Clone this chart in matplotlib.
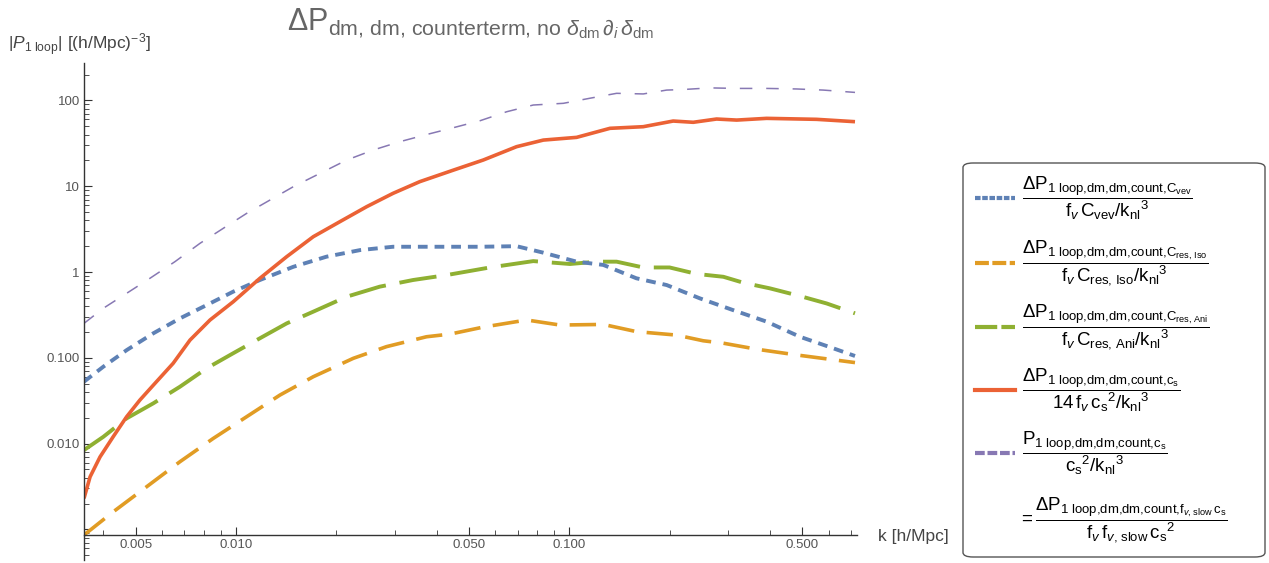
import numpy as np
import matplotlib.pyplot as plt
from matplotlib.lines import Line2D
from matplotlib.patches import FancyBboxPatch
from matplotlib.ticker import FixedLocator, FixedFormatter

plt.rcParams['font.family'] = ['Liberation Sans', 'DejaVu Sans']
plt.rcParams['mathtext.fontset'] = 'custom'
plt.rcParams['mathtext.rm'] = 'Liberation Sans'
plt.rcParams['mathtext.it'] = 'Liberation Sans:italic'
plt.rcParams['mathtext.bf'] = 'Liberation Sans:bold'
plt.rcParams['lines.scale_dashes'] = False

# values (k in h/Mpc)
k_vev = [0.0035, 0.0040, 0.0047, 0.00565, 0.00679, 0.00817, 0.00981, 0.0118, 0.01486, 0.0187,
         0.02355, 0.0296, 0.0373, 0.054, 0.0695, 0.0836, 0.1052, 0.1265, 0.159, 0.196,
         0.2466, 0.31, 0.391, 0.492, 0.62, 0.72]
p_vev = [0.0527, 0.0788, 0.123, 0.193, 0.288, 0.412, 0.59, 0.807, 1.15, 1.51,
         1.8, 1.97, 1.97, 1.97, 2.0, 1.68, 1.32, 1.21, 0.845, 0.705,
         0.493, 0.36, 0.264, 0.176, 0.129, 0.105]

k_iso = [0.0035, 0.00428, 0.0054, 0.00679, 0.00855, 0.01077, 0.01355, 0.01706, 0.0225, 0.0283,
         0.0373, 0.0439, 0.0552, 0.0745, 0.0938, 0.1265, 0.159, 0.21, 0.2523, 0.29,
         0.365, 0.481, 0.72]
p_iso = [0.00086, 0.0016, 0.00315, 0.00615, 0.0115, 0.0206, 0.0368, 0.0602, 0.0987, 0.135,
         0.176, 0.189, 0.228, 0.276, 0.241, 0.245, 0.202, 0.184, 0.158, 0.148,
         0.126, 0.108, 0.088]

k_ani = [0.0035, 0.0040, 0.0047, 0.00565, 0.00679, 0.00817, 0.00981, 0.0118, 0.0142, 0.01706,
         0.0215, 0.027, 0.034, 0.0429, 0.0578, 0.078, 0.1005, 0.1208, 0.1387, 0.1667,
         0.2, 0.241, 0.29, 0.333, 0.4, 0.492, 0.592, 0.72]
p_ani = [0.0084, 0.012, 0.0197, 0.0295, 0.046, 0.0755, 0.113, 0.169, 0.252, 0.345,
         0.516, 0.675, 0.807, 0.922, 1.13, 1.34, 1.24, 1.32, 1.32, 1.13,
         1.13, 0.95, 0.88, 0.75, 0.645, 0.525, 0.43, 0.33]

k_cs = [0.0035, 0.00365, 0.00391, 0.00428, 0.0047, 0.00515, 0.00565, 0.00648, 0.00728, 0.00836,
        0.00981, 0.0118, 0.0142, 0.01706, 0.0205, 0.02466, 0.0296, 0.0356, 0.0449, 0.0552,
        0.0695, 0.0836, 0.1052, 0.1325, 0.1667, 0.205, 0.2355, 0.2767, 0.318, 0.391,
        0.552, 0.72]
p_cs = [0.0023, 0.0041, 0.0070, 0.012, 0.0206, 0.0322, 0.048, 0.0863, 0.161, 0.276,
        0.45, 0.845, 1.51, 2.58, 3.86, 5.77, 8.26, 11.3, 15.4, 20.2,
        28.9, 34.5, 37.1, 47.3, 49.4, 57.5, 55.6, 60.7, 59.0, 61.8,
        60.2, 56.5]

k_tot = [0.0035, 0.0040, 0.0047, 0.00552, 0.00656, 0.0078, 0.00916, 0.01077, 0.01265, 0.01486,
         0.01786, 0.0215, 0.0258, 0.031, 0.0373, 0.0439, 0.054, 0.0649, 0.078, 0.096,
         0.1153, 0.1387, 0.1667, 0.196, 0.22, 0.264, 0.318, 0.391, 0.481, 0.578, 0.72]
p_tot = [0.252, 0.378, 0.565, 0.845, 1.32, 2.16, 3.23, 4.83, 6.9, 9.87,
         14.1, 20.2, 26.4, 33.0, 40.0, 47.0, 58.0, 73.8, 88.4, 92.5,
         106, 121, 119, 132, 134, 140, 138, 138, 136, 132, 124]

x_major = [0.005, 0.01, 0.05, 0.1, 0.5]
x_major_labels = ['0.005', '0.010', '0.050', '0.100', '0.500']
y_major = [0.001, 0.01, 0.1, 1, 10, 100]
y_major_labels = ['', '0.010', '0.100', '1', '10', '100']

blue, orange, green, red, purple = '#5E81B5', '#E19C24', '#8FB032', '#EB6235', '#8778B3'

W, H = 1269, 563
fig = plt.figure(figsize=(W / 100, H / 100), dpi=100)
ax = fig.add_axes([84 / W, 1 - 560 / H, (857 - 84) / W, (560 - 63) / H])

ax.plot(k_tot, p_tot, color=purple, lw=1.1, dashes=(9, 10))
ax.plot(k_iso, p_iso, color=orange, lw=2.6, dashes=(19, 9))
ax.plot(k_ani, p_ani, color=green, lw=2.8, dashes=(27, 10))
ax.plot(k_vev, p_vev, color=blue, lw=2.8, dashes=(7, 5))
ax.plot(k_cs, p_cs, color=red, lw=2.6, solid_capstyle='butt')

ax.set_xscale('log')
ax.set_yscale('log')
ax.set_xlim(0.0035, 0.73)
ax.set_ylim(0.00044, 273)

for s in ['top', 'right']:
    ax.spines[s].set_visible(False)
ax.spines['bottom'].set_position(('data', 0.00086))
for s in ['bottom', 'left']:
    ax.spines[s].set_color('#333333')
    ax.spines[s].set_linewidth(1.0)

ax.xaxis.set_major_locator(FixedLocator(x_major))
ax.xaxis.set_major_formatter(FixedFormatter(x_major_labels))
x_minor = [m * d for d in [0.001, 0.01, 0.1] for m in range(2, 10)]
ax.xaxis.set_minor_locator(FixedLocator([v for v in x_minor if v not in x_major]))
ax.xaxis.set_minor_formatter(FixedFormatter([]))

ax.yaxis.set_major_locator(FixedLocator(y_major))
ax.yaxis.set_major_formatter(FixedFormatter(y_major_labels))
y_minor = [m * d for d in [0.0001, 0.001, 0.01, 0.1, 1, 10, 100] for m in range(2, 10)]
ax.yaxis.set_minor_locator(FixedLocator(y_minor))
ax.yaxis.set_minor_formatter(FixedFormatter([]))

ax.tick_params(which='major', direction='in', length=6, width=0.8, color='#333333',
               labelsize=9.5, labelcolor='#555555', pad=3)
ax.tick_params(which='minor', direction='in', length=3.5, width=0.6, color='#333333')

ax.text(0.5, 1.0 + (63 - 24) / (560 - 63),
        r'$\Delta\mathrm{P}_{\text{dm, dm, counterterm, no }\delta_{\mathrm{dm}}\,\partial_{i}\,\delta_{\mathrm{dm}}}$',
        transform=ax.transAxes, ha='center', va='center', fontsize=22, color='#666666')
fig.text(8 / W, 1 - 45 / H, r'$|P_{\text{1 loop}}|\ [(\mathrm{h/Mpc})^{-3}]$',
         ha='left', va='center', fontsize=12.5, color='#444444')
fig.text(878 / W, 1 - 537 / H, 'k [h/Mpc]', ha='left', va='center', fontsize=12.5, color='#444444')

# legend
box = FancyBboxPatch((963 / W, 1 - 557 / H), (1265 - 963) / W, (557 - 163) / H,
                     boxstyle='round,pad=0,rounding_size=0.008', transform=fig.transFigure,
                     facecolor='white', edgecolor='#555555', lw=1.0)
fig.patches.append(box)

sub = r'\text{1 loop,dm,dm,count,}'
fv = r'\mathrm{f}_{v}'
knl = r'/{\mathrm{k}_{\mathrm{nl}}}^{3}'
cs2 = r'{\mathrm{c}_{\mathrm{s}}}^{2}'
labels = [
    r'$\dfrac{\Delta\mathrm{P}_{' + sub + r'\mathrm{C}_{\mathrm{vev}}}}{' + fv + r'\,\mathrm{C}_{\mathrm{vev}}' + knl + '}$',
    r'$\dfrac{\Delta\mathrm{P}_{' + sub + r'\mathrm{C}_{\text{res, Iso}}}}{' + fv + r'\,\mathrm{C}_{\text{res, Iso}}' + knl + '}$',
    r'$\dfrac{\Delta\mathrm{P}_{' + sub + r'\mathrm{C}_{\text{res, Ani}}}}{' + fv + r'\,\mathrm{C}_{\text{res, Ani}}' + knl + '}$',
    r'$\dfrac{\Delta\mathrm{P}_{' + sub + r'\mathrm{c}_{\mathrm{s}}}}{\mathrm{14}\,' + fv + r'\,' + cs2 + knl + '}$',
    r'$\dfrac{\mathrm{P}_{' + sub + r'\mathrm{c}_{\mathrm{s}}}}{' + cs2 + knl + '}$',
    r'$=\dfrac{\Delta\mathrm{P}_{' + sub + r'\mathrm{f}_{v\text{, slow}}\,\mathrm{c}_{\mathrm{s}}}}{' + fv + r'\,\mathrm{f}_{v\text{, slow}}\,' + cs2 + '}$',
]
row_y = [198, 263, 327, 390, 453, 520]
styles = [(blue, 3.0, (4, 1.2)), (orange, 3.0, (10, 2.5)), (green, 3.0, (16, 3)),
          (red, 3.0, None), (purple, 3.0, (7, 2))]
for i, (lab, yy) in enumerate(zip(labels, row_y)):
    yf = 1 - yy / H
    if i < len(styles):
        c, lw, d = styles[i]
        ln = Line2D([975 / W, 1015 / W], [yf, yf], transform=fig.transFigure, color=c, lw=lw)
        if d is not None:
            ln.set_dashes(d)
        fig.lines.append(ln)
        fig.text(1022 / W, yf, lab, ha='left', va='center', fontsize=13.5, color='black')
    else:
        fig.text(1018 / W, yf, lab, ha='left', va='center', fontsize=13.5, color='black')

fig.savefig('out.png', dpi=100)
